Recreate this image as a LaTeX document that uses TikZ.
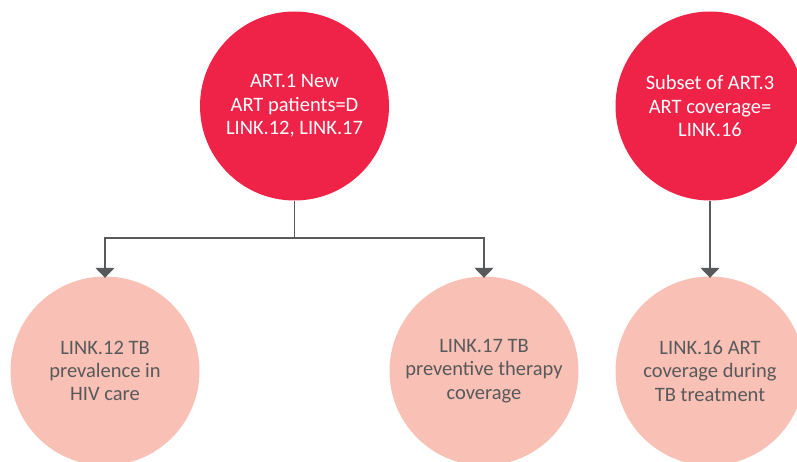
\documentclass[tikz,border=0pt]{standalone}
\usepackage{fontspec}
\setmainfont{Carlito}
\usetikzlibrary{arrows.meta}
\definecolor{topred}{HTML}{EE2347}
\definecolor{pinkfill}{HTML}{F9C0B5}
\definecolor{darkgrey}{HTML}{58595B}
\begin{document}
\begin{tikzpicture}[x=1pt,y=-1pt,
  topcircle/.style={circle,fill=topred,text=white,minimum size=189pt,inner sep=0pt,align=center,font=\fontsize{20.5}{23.4}\selectfont},
  bottomcircle/.style={circle,fill=pinkfill,text=darkgrey,minimum size=189pt,inner sep=0pt,align=center,font=\fontsize{20.5}{23.4}\selectfont},
  link/.style={draw=darkgrey,line width=1.3pt},
  linkarrow/.style={link,-{Triangle[width=19pt,length=10pt]}}]
\useasboundingbox (0,0) rectangle (797,462);
\clip (0,0) rectangle (797,462);
\node[topcircle] (c1) at (294.5,106) {ART.1 New\\ART patients=D\\LINK.12, LINK.17};
\node[topcircle] (c2) at (710,106) {Subset of ART.3\\ART coverage=\\LINK.16};
\node[bottomcircle] (p1) at (105,371) {LINK.12 TB\\prevalence in\\HIV care};
\node[bottomcircle] (p2) at (484,371) {LINK.17 TB\\preventive therapy\\coverage};
\node[bottomcircle] (p3) at (710,371) {LINK.16 ART\\coverage during\\TB treatment};
\coordinate (j) at (294.5,238);
\draw[link] (c1.south) -- (j);
\draw[linkarrow] (j) -| ([yshift=-1.5pt]p1.north);
\draw[linkarrow] (j) -| ([yshift=-1.5pt]p2.north);
\draw[linkarrow] (c2.south) -- ([yshift=-1.5pt]p3.north);
\end{tikzpicture}
\end{document}
